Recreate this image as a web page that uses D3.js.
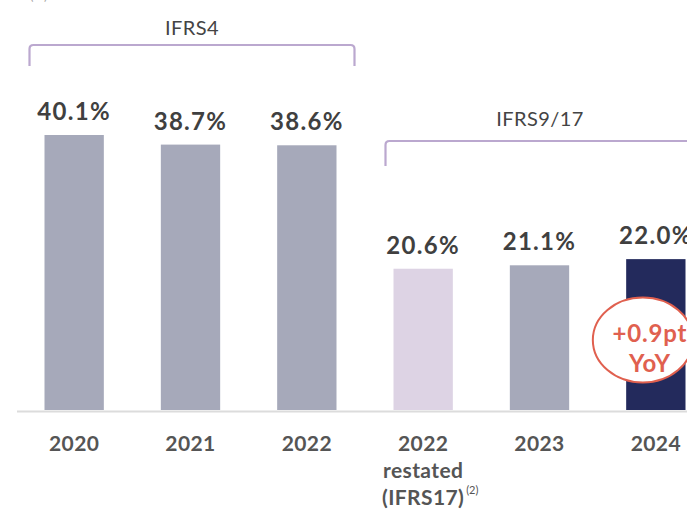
<!DOCTYPE html>
<html>
<head>
<meta charset="utf-8">
<script src="https://cdn.jsdelivr.net/npm/d3@7"></script>
<style>
  body { margin: 0; background: #fff; }
  svg { display: block; font-family: "Source Sans Pro", Lato, "Noto Sans", sans-serif; }
</style>
</head>
<body>
<svg id="chartSVG" width="687" height="517"></svg>
<script>
// categories (one entry per bar, lines split with "|")
const categories = ["2020", "2021", "2022", "2022|restated|(IFRS17)", "2023", "2024"];
// ratio values in %
const values = [40.1, 38.7, 38.6, 20.6, 21.1, 22.0];
const valueLabels = ["40.1%", "38.7%", "38.6%", "20.6%", "21.1%", "22.0%"];
// bracket groups over the bars
const groupNames = ["IFRS4", "IFRS9/17"];
const groupFirst = [0, 3];
const groupLast = [2, 5];
const badgeLines = ["+0.9pt", "YoY"];

const width = 687, height = 517;
const baseY = 410;

const svg = d3.select("#chartSVG");

const x = d3.scaleBand()
  .domain(d3.range(categories.length))
  .range([16, 714])
  .paddingInner(0.49)
  .paddingOuter(0.245);

const y = d3.scaleLinear()
  .domain([0, 40.1])
  .range([baseY, 135]);

function barColor(i) {
  if (categories[i].indexOf("restated") >= 0) return "#ddd3e4";
  if (i === categories.length - 1) return "#232a5c";
  return "#a6a9ba";
}

// cut-off unit label at the very top
svg.append("text")
  .attr("x", 30).attr("y", 0)
  .attr("font-size", 13).attr("fill", "#aaa")
  .text("(%)");

// bars
svg.append("g").selectAll("rect")
  .data(values)
  .join("rect")
  .attr("x", (d, i) => x(i))
  .attr("width", x.bandwidth())
  .attr("y", d => y(d))
  .attr("height", d => baseY - y(d))
  .attr("fill", (d, i) => barColor(i));

// baseline
svg.append("line")
  .attr("x1", 17).attr("x2", width)
  .attr("y1", baseY + 1.5).attr("y2", baseY + 1.5)
  .attr("stroke", "#dcdcdc").attr("stroke-width", 2);

// value labels
svg.append("g").selectAll("text")
  .data(values)
  .join("text")
  .attr("x", (d, i) => x(i) + x.bandwidth() / 2)
  .attr("y", d => y(d) - 15)
  .attr("text-anchor", "middle")
  .attr("font-size", 24)
  .attr("font-weight", "bold")
  .attr("letter-spacing", 1.3)
  .attr("fill", "#404040")
  .text((d, i) => valueLabels[i]);

// category labels
const catG = svg.append("g").selectAll("text")
  .data(categories)
  .join("text")
  .attr("x", (d, i) => x(i) + x.bandwidth() / 2)
  .attr("y", 451)
  .attr("text-anchor", "middle")
  .attr("font-size", 21)
  .attr("font-weight", "bold")
  .attr("letter-spacing", 0.4)
  .attr("fill", "#555");
catG.each(function(d) {
  const el = d3.select(this);
  const cx = +el.attr("x");
  d.split("|").forEach((line, k) => {
    el.append("tspan")
      .attr("x", cx)
      .attr("dy", k === 0 ? 0 : 27)
      .text(line);
  });
});
// footnote marker on the restated label
const ri = categories.findIndex(c => c.indexOf("restated") >= 0);
svg.append("text")
  .attr("x", x(ri) + x.bandwidth() / 2 + 43)
  .attr("y", 494)
  .attr("font-size", 11)
  .attr("fill", "#555")
  .text("(2)");

// brackets
const bracketY = [45, 141];
const bracketDrop = [21, 25];
const bracketPad = [[15, 18], [8, 18]];
groupNames.forEach((name, g) => {
  const x0 = x(groupFirst[g]) - bracketPad[g][0];
  const x1 = x(groupLast[g]) + x.bandwidth() + bracketPad[g][1];
  const by = bracketY[g], r = 4;
  const p = d3.path();
  p.moveTo(x0, by + bracketDrop[g]);
  p.lineTo(x0, by + r);
  p.quadraticCurveTo(x0, by, x0 + r, by);
  p.lineTo(x1 - r, by);
  p.quadraticCurveTo(x1, by, x1, by + r);
  p.lineTo(x1, by + bracketDrop[g]);
  svg.append("path")
    .attr("d", p.toString())
    .attr("fill", "none")
    .attr("stroke", "#bba8cf")
    .attr("stroke-width", 2.2);
  const lx = g === 0 ? (x0 + x1) / 2 : 540;
  svg.append("text")
    .attr("x", lx)
    .attr("y", by - 10 - (g === 0 ? 0 : 5))
    .attr("text-anchor", "middle")
    .attr("font-size", 20)
    .attr("letter-spacing", 0.4)
    .attr("fill", "#444")
    .text(name);
});

// YoY badge on last bar
const last = categories.length - 1;
const bx = x(last) + x.bandwidth() / 2 - 13, byc = 340;
svg.append("ellipse")
  .attr("cx", bx).attr("cy", byc)
  .attr("rx", 50).attr("ry", 42.5)
  .attr("fill", "#fff")
  .attr("stroke", "#e0604f")
  .attr("stroke-width", 2);
svg.append("g").selectAll("text")
  .data(badgeLines)
  .join("text")
  .attr("x", bx + 7)
  .attr("y", (d, i) => byc + 2 + i * 30)
  .attr("text-anchor", "middle")
  .attr("font-size", 24)
  .attr("font-weight", "bold")
  .attr("letter-spacing", 0.8)
  .attr("fill", "#e0604f")
  .text(d => d);
</script>
</body>
</html>
